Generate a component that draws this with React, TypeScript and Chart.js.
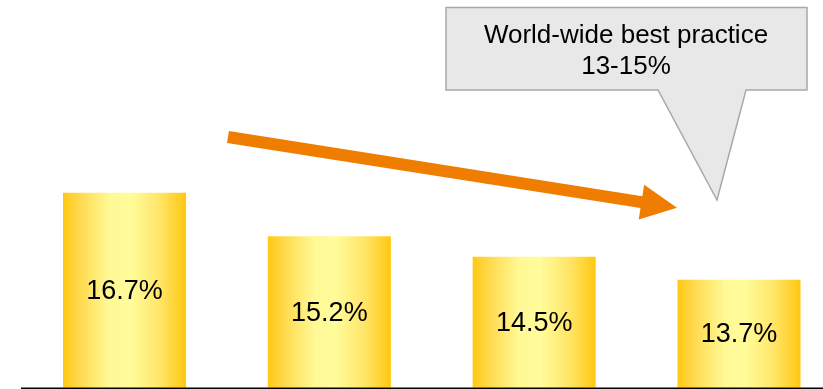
import React, { useEffect, useRef } from "react";
import { Chart, registerables } from "chart.js";

Chart.register(...registerables);

const categories = ["Year 1", "Year 2", "Year 3", "Year 4"];
const values = [16.7, 15.2, 14.5, 13.7];
const valueLabels = ["16.7%", "15.2%", "14.5%", "13.7%"];
const calloutLines = ["World-wide best practice", "13-15%"];

const FONT = '"Liberation Sans", Arial, sans-serif';
const BAR_W = 122.4;
const Y_MIN = 10;

export default function App() {
  const ref = useRef<HTMLCanvasElement | null>(null);

  useEffect(() => {
    const canvas = ref.current;
    if (!canvas) return;

    const barGradient = (ctx: any) => {
      const chart = ctx.chart;
      const xs = chart.scales?.x;
      if (!xs || ctx.dataIndex === undefined) return "#FFD21A";
      const cx = xs.getPixelForValue(ctx.dataIndex);
      if (!isFinite(cx)) return "#FFD21A";
      const g = chart.ctx.createLinearGradient(cx - BAR_W / 2, 0, cx + BAR_W / 2, 0);
      g.addColorStop(0, "#FFC812");
      g.addColorStop(0.12, "#FFD84A");
      g.addColorStop(0.38, "#FFF996");
      g.addColorStop(0.55, "#FFFC9A");
      g.addColorStop(0.78, "#FFE66A");
      g.addColorStop(1, "#FFC812");
      return g;
    };

    const overlay = {
      id: "overlay",
      afterDraw(chart: any) {
        const c = chart.ctx;
        const xs = chart.scales.x;
        const ys = chart.scales.y;
        const by = ys.getPixelForValue(Y_MIN);
        c.save();
        // value labels
        c.fillStyle = "#000000";
        c.font = `27px ${FONT}`;
        c.textAlign = "center";
        c.textBaseline = "middle";
        values.forEach((v, i) => {
          const x = xs.getPixelForValue(i);
          const y = (ys.getPixelForValue(v) + by) / 2 + 1;
          c.fillText(valueLabels[i], x, y);
        });
        // baseline
        c.strokeStyle = "#000";
        c.lineWidth = 1.6;
        c.beginPath();
        c.moveTo(21, by + 0.8);
        c.lineTo(chart.width, by + 0.8);
        c.stroke();

        // arrow
        const sx = 228, sy = 137, tx = 677, ty = 207.7;
        const ang = Math.atan2(ty - sy, tx - sx);
        const headLen = 36, headW = 17.5, shaftW = 6;
        const bx = tx - headLen * Math.cos(ang);
        const byy = ty - headLen * Math.sin(ang);
        const nx = -Math.sin(ang), ny = Math.cos(ang);
        c.fillStyle = "#EE7D00";
        c.beginPath();
        c.moveTo(sx + nx * shaftW, sy + ny * shaftW);
        c.lineTo(bx + nx * shaftW, byy + ny * shaftW);
        c.lineTo(bx + nx * headW, byy + ny * headW);
        c.lineTo(tx, ty);
        c.lineTo(bx - nx * headW, byy - ny * headW);
        c.lineTo(bx - nx * shaftW, byy - ny * shaftW);
        c.lineTo(sx - nx * shaftW, sy - ny * shaftW);
        c.closePath();
        c.fill();

        // callout
        const L = 446, T = 7.5, R = 807, B = 90;
        c.beginPath();
        c.moveTo(L, T);
        c.lineTo(R, T);
        c.lineTo(R, B);
        c.lineTo(746, B);
        c.lineTo(717, 200);
        c.lineTo(658, B);
        c.lineTo(L, B);
        c.closePath();
        c.fillStyle = "#E8E8E8";
        c.fill();
        c.strokeStyle = "#A8A8A8";
        c.lineWidth = 1.5;
        c.stroke();
        c.fillStyle = "#000";
        c.font = `26px ${FONT}`;
        c.textAlign = "center";
        c.textBaseline = "alphabetic";
        c.fillText(calloutLines[0], 626, 42.5);
        c.fillText(calloutLines[1], 626, 74);
        c.restore();
      },
    };

    const chart = new Chart(canvas, {
      type: "bar",
      data: {
        labels: categories,
        datasets: [
          {
            data: values.map((v, i) => ({ x: i, y: v })),
            backgroundColor: barGradient,
            borderWidth: 0,
            barThickness: BAR_W,
          },
        ],
      },
      options: {
        responsive: false,
        animation: false,
        layout: { padding: { top: 97.5, bottom: 1.5, left: 0, right: 0 } },
        plugins: { legend: { display: false }, tooltip: { enabled: false } },
        scales: {
          x: { type: "linear", display: false, offset: false, min: -0.608, max: 3.41 },
          y: { display: false, min: Y_MIN, max: 20 },
        },
      },
      plugins: [overlay],
    });
    return () => chart.destroy();
  }, []);

  return (
    <div style={{ position: "fixed", left: 0, top: 0, width: 823, height: 389, background: "#fff" }}>
      <canvas ref={ref} width={823} height={389} style={{ display: "block", width: 823, height: 389 }} />
    </div>
  );
}
